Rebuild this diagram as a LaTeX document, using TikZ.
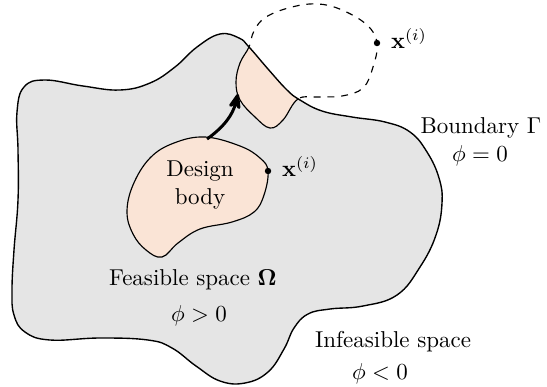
\documentclass[tikz,border=0pt]{standalone}
\usepackage{amsmath,amssymb}
\usepackage{xcolor}
\usepackage{tikz}
\usetikzlibrary{arrows.meta,positioning}
\definecolor{spaceGray}{HTML}{E5E5E5}
\definecolor{bodyPeach}{HTML}{FAE4D6}
\newcommand{\domainpath}{plot[smooth cycle,tension=0.7] coordinates {
  (17,112) (24,87) (45,80) (83,86) (120,90) (150,83) (175,67) (197,47)
  (220,34) (239,38) (249,47) (268,69) (287,90) (300,100) (322,111)
  (352,117) (385,122) (410,132) (427,152) (439,178) (442,203) (436,235)
  (420,267) (397,295) (363,306) (330,309) (308,314) (294,328) (284,349)
  (268,372) (245,383) (220,381) (196,366) (172,348) (148,340) (100,338)
  (50,340) (25,332) (14,315) (12,290) (14,250) (18,200) (18,150)}}
\newcommand{\movedpath}{plot[smooth cycle,tension=0.65] coordinates {
  (249,47) (240,63) (236,82) (240,100) (255,117) (270,128) (283,120)
  (298,99) (318,97) (342,96) (363,88) (373,67) (377,43) (367,25)
  (342,10) (318,4) (292,7) (266,17) (254,31)}}
\newcommand{\designpath}{plot[smooth cycle,tension=0.65] coordinates {
  (205,137) (240,146) (260,158) (268,171) (264,195) (254,212) (232,222)
  (200,229) (178,243) (162,257) (146,250) (133,234) (127,212) (133,185)
  (150,158) (174,143)}}

\begin{document}
\begin{tikzpicture}[
  x=0.0153cm,y=-0.0153cm,
  >={Stealth[round]},
  lb/.style={align=center,inner sep=1pt},
  dot/.style={circle,fill=black,inner sep=0pt,minimum size=2.8pt},
  outline/.style={line width=0.6pt},
]
  \useasboundingbox (0,0) rectangle (547,386);

  \fill[spaceGray] \domainpath;
  \begin{scope}
    \clip \domainpath;
    \fill[bodyPeach] \movedpath;
    \draw[line width=0.5pt] \movedpath;
  \end{scope}
  \begin{scope}[even odd rule]
    \clip (-20,-20) rectangle (570,410) \domainpath;
    \draw[line width=0.5pt,dashed] \movedpath;
  \end{scope}
  \draw[outline] \domainpath;
  \filldraw[fill=bodyPeach,line width=0.5pt] \designpath;

  \node[lb] (design) at (200,185) {Design\\body};
  \node[dot] (xbody) at (268,171) {};
  \node[right=1pt of xbody,anchor=base west,yshift=-2.4pt] (xbodylb) {$\mathbf{x}^{(i)}$};
  \node[dot] (xtop) at (377,43) {};
  \node[right=1pt of xtop,anchor=base west,yshift=-2.4pt] (xtoplb) {$\mathbf{x}^{(i)}$};

  \node[lb] (feas)     at (193,280) {Feasible space $\mathbf{\Omega}$};
  \node[lb] (feasphi)  at (199,316) {$\phi > 0$};
  \node[lb] (bound)    at (481,128) {Boundary $\Gamma$};
  \node[lb] (boundphi) at (480,156) {$\phi = 0$};
  \node[lb] (infeas)   at (393,342) {Infeasible space};
  \node[lb] (infphi)   at (380,374) {$\phi < 0$};

  \coordinate (arrowstart) at (207,139);
  \coordinate (arrowend)   at (238,94);
  \draw[->,line width=1.3pt] (arrowstart) to[bend right=20] (arrowend);
\end{tikzpicture}
\end{document}
